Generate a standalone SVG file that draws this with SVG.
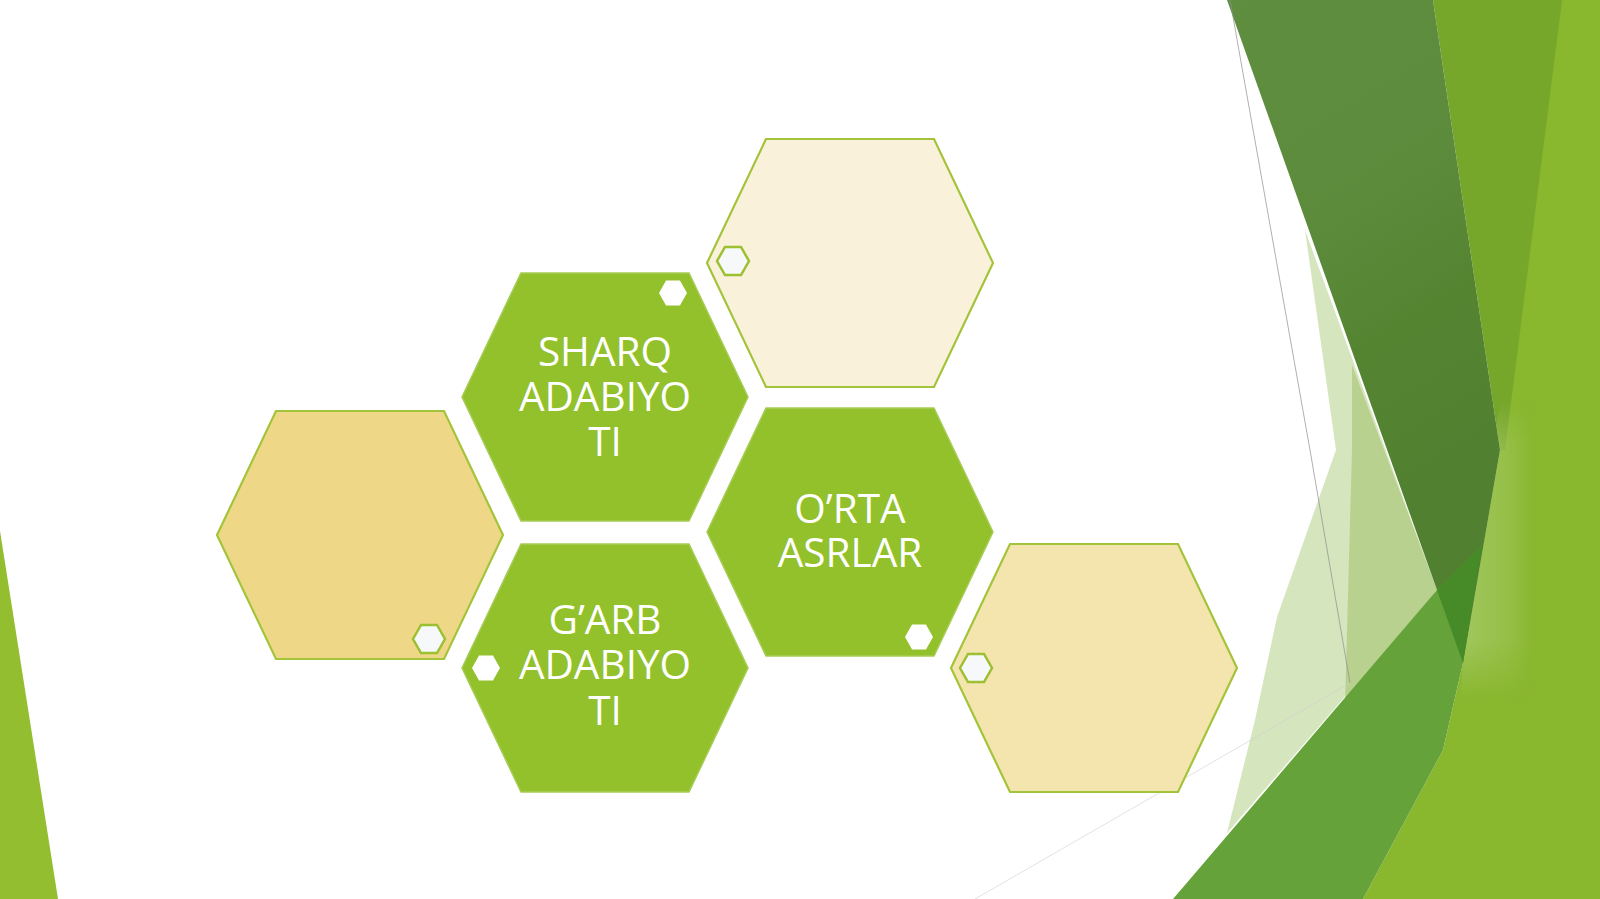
<svg xmlns="http://www.w3.org/2000/svg" width="1600" height="899" viewBox="0 0 1600 899">
  <defs>
    <path id="hex" d="M -143,0 L -84,-124 L 84,-124 L 143,0 L 84,124 L -84,124 Z"/>
    <path id="mini" d="M -14,0 L -7,-12.5 L 7,-12.5 L 14,0 L 7,12.5 L -7,12.5 Z"/>
    <path id="mini-o" d="M -16,0 L -8,-14 L 8,-14 L 16,0 L 8,14 L -8,14 Z"/>
    <linearGradient id="darkband" x1="1227" y1="0" x2="1500" y2="450" gradientUnits="userSpaceOnUse">
      <stop offset="0" stop-color="#5F8E40"/>
      <stop offset="0.45" stop-color="#5C8B3C"/>
      <stop offset="0.7" stop-color="#558431"/>
      <stop offset="1" stop-color="#518030"/>
    </linearGradient>
    <linearGradient id="lightfade" x1="1465" y1="0" x2="1535" y2="0" gradientUnits="userSpaceOnUse">
      <stop offset="0" stop-color="#A2C862" stop-opacity="0.9"/>
      <stop offset="0.6" stop-color="#A2C862" stop-opacity="0.5"/>
      <stop offset="1" stop-color="#A2C862" stop-opacity="0"/>
    </linearGradient>
    <linearGradient id="lightfadeV" x1="0" y1="400" x2="0" y2="700" gradientUnits="userSpaceOnUse">
      <stop offset="0" stop-color="#FFFFFF" stop-opacity="0"/>
      <stop offset="0.15" stop-color="#FFFFFF" stop-opacity="1"/>
      <stop offset="0.8" stop-color="#FFFFFF" stop-opacity="1"/>
      <stop offset="1" stop-color="#FFFFFF" stop-opacity="0"/>
    </linearGradient>
    <mask id="fadeMask" maskUnits="userSpaceOnUse" x="1400" y="380" width="200" height="360">
      <rect x="1400" y="380" width="200" height="360" fill="url(#lightfadeV)"/>
    </mask>
  </defs>
  <style>
    .green { fill: #92C12B; stroke: #A6CC55; stroke-width: 1.5; }
    .cream { stroke: #A3C43A; stroke-width: 2.2; }
    .mini-w { fill: #FFFFFF; }
    .mini-o { fill: #F6F8FA; stroke: #9DC030; stroke-width: 2.5; }
    .label { font-family: "Open Sans", "Noto Sans", "Liberation Sans", sans-serif; font-size: 40.5px; fill: #FFFFFF; text-anchor: middle; }
  </style>

  <rect x="0" y="0" width="1600" height="899" fill="#FFFFFF"/>

  <g id="background">
    <!-- left green sliver -->
    <polygon points="0,531 58,899 0,899" fill="#93BE30"/>
    <!-- pale translucent region -->
    <polygon points="1305,230 1437,590 1227,833 1255,720 1277,617 1336,450" fill="#D5E5BE"/>
    <!-- mid-tone translucent region -->
    <polygon points="1352,365 1437,590 1345,705 1352,450" fill="#B8D18F"/>
    <!-- far right light green -->
    <polygon points="1560,0 1600,0 1600,899 1363,899 1443,750 1463,663 1500,450" fill="#89B72E"/>
    <!-- mid green wedge -->
    <polygon points="1433,0 1562,0 1505,450 1500,450" fill="#76A62A"/>
    <!-- lighter fading overlay on far right -->
    <polygon points="1500,400 1535,400 1535,700 1460,700 1463,663" fill="url(#lightfade)" mask="url(#fadeMask)"/>
    <!-- dark band -->
    <polygon points="1227,0 1433,0 1500,450 1463,663 1437,590" fill="url(#darkband)"/>
    <!-- bottom mid band -->
    <polygon points="1437,590 1480,548 1463,663 1443,750 1363,899 1173,899" fill="#66A23A"/>
    <!-- dark overlap -->
    <polygon points="1437,590 1482,545 1463,663" fill="#468B27"/>
    <!-- thin grey lines -->
    <polyline points="1230,0 1310,450 1350,683" fill="none" stroke="#8E8E8E" stroke-width="1" opacity="0.7"/>
    <line x1="1350" y1="683" x2="975" y2="899" stroke="#CFCFCF" stroke-width="1" opacity="0.6"/>
  </g>

  <g id="connectors"></g>

  <g id="node-top-cream">
    <use href="#hex" x="850" y="263" class="cream" fill="#FAF1DB"/>
    <use href="#mini-o" x="733" y="261" class="mini-o"/>
  </g>

  <g id="node-sharq">
    <use href="#hex" x="605" y="397" class="green"/>
    <use href="#mini" x="673" y="293" class="mini-w"/>
    <text class="label"><tspan x="605" y="366">SHARQ</tspan><tspan x="605" y="411">ADABIYO</tspan><tspan x="605" y="456">TI</tspan></text>
  </g>

  <g id="node-left-gold">
    <use href="#hex" x="360" y="535" class="cream" fill="#EED888"/>
    <use href="#mini-o" x="429" y="639" class="mini-o"/>
  </g>

  <g id="node-orta">
    <use href="#hex" x="850" y="532" class="green"/>
    <use href="#mini" x="919" y="637" class="mini-w"/>
    <text class="label"><tspan x="850" y="523">O’RTA</tspan><tspan x="850" y="567">ASRLAR</tspan></text>
  </g>

  <g id="node-garb">
    <use href="#hex" x="605" y="668" class="green"/>
    <use href="#mini" x="486" y="668" class="mini-w"/>
    <text class="label"><tspan x="605" y="634">G’ARB</tspan><tspan x="605" y="679">ADABIYO</tspan><tspan x="605" y="725">TI</tspan></text>
  </g>

  <g id="node-right-cream">
    <use href="#hex" x="1094" y="668" class="cream" fill="#F4E4AE"/>
    <use href="#mini-o" x="976" y="668" class="mini-o"/>
  </g>
</svg>
